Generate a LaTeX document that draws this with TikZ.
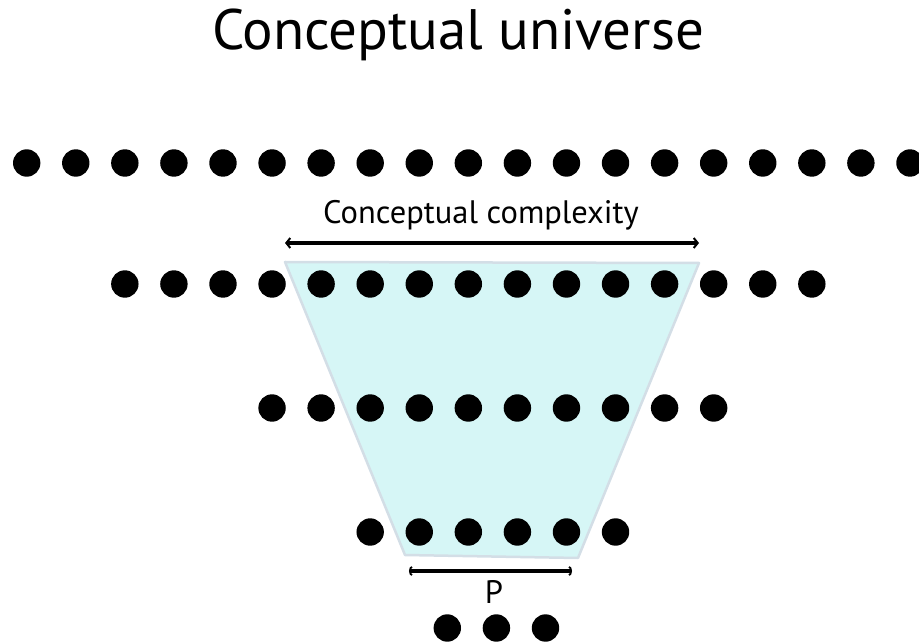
\documentclass[tikz,border=0pt]{standalone}
\usepackage{fontspec}
\setmainfont{PT Sans}
\usetikzlibrary{arrows.meta}
\definecolor{trapfill}{HTML}{D6F6F6}
\definecolor{trapedge}{HTML}{D3DEE6}
\tikzset{
  dot/.style={circle,fill=black,inner sep=0pt,minimum size=27.4pt},
  titletext/.style={font=\fontsize{57}{60}\selectfont,anchor=base,inner sep=0pt},
  labeltext/.style={font=\fontsize{32.5}{36}\selectfont,anchor=base,inner sep=0pt},
  bigarrow/.style={line width=4pt,{Straight Barb[length=4pt,width=10pt,line width=2pt]}-{Straight Barb[length=4pt,width=10pt,line width=2pt]}},
  smallarrow/.style={line width=3.5pt,{Arc Barb[length=3pt,width=10pt,line width=1.8pt]}-{Arc Barb[length=3pt,width=10pt,line width=1.8pt]}},
}
\begin{document}
\begin{tikzpicture}[x=1pt,y=-1pt]
\useasboundingbox (0,0) rectangle (919,644);
% trapezoid
\coordinate (tl) at (285,262);
\coordinate (tr) at (699,263);
\coordinate (br) at (578,558);
\coordinate (bl) at (405,555);
\draw[fill=trapfill,draw=trapedge,line width=2.5pt,line join=round] (tl) -- (tr) -- (br) -- (bl) -- cycle;
% title
\node[titletext] (title) at (458,50) {Conceptual universe};
% rows of dots
\foreach \i in {0,...,18} \node[dot] (ra\i) at ({26.7+49.07*\i},163) {};
\foreach \i in {2,...,16} \node[dot] (rb\i) at ({26.7+49.07*\i},284) {};
\foreach \i in {5,...,14} \node[dot] (rc\i) at ({26.7+49.07*\i},408) {};
\foreach \i in {7,...,12} \node[dot] (rd\i) at ({26.7+49.07*\i},532) {};
\foreach \i in {0,1,2} \node[dot] (re\i) at ({447.3+49.1*\i},628) {};
% complexity arrow
\node[labeltext] (cc) at (481,223.3) {Conceptual complexity};
\coordinate (ccl) at (285,243);
\coordinate (ccr) at (699,243);
\draw[bigarrow] (ccl) -- (ccr);
% P arrow
\coordinate (pl) at (409,571);
\coordinate (pr) at (572,571);
\draw[smallarrow] (pl) -- (pr);
\node[labeltext] (p) at (494,603.3) {P};
\end{tikzpicture}
\end{document}
